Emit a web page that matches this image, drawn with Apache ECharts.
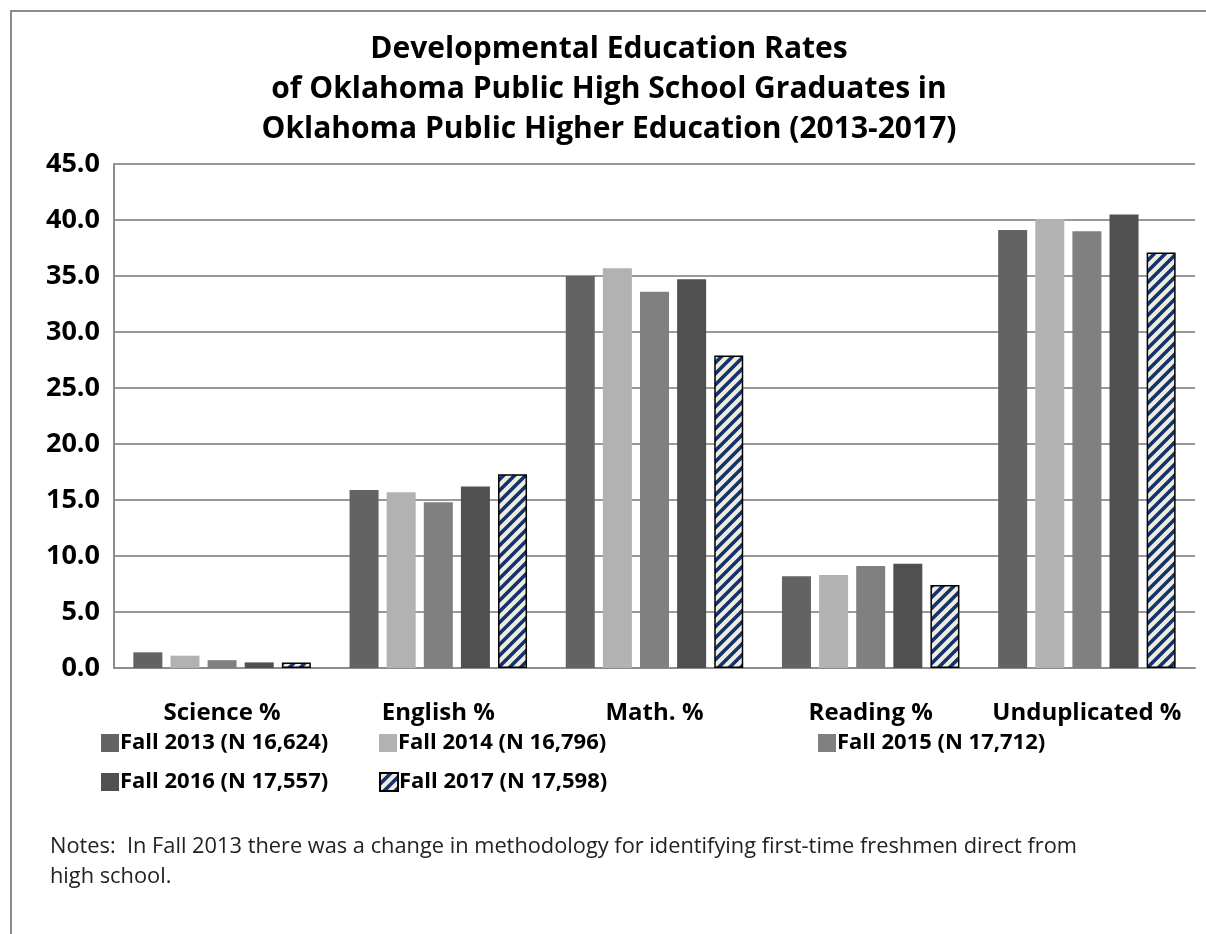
<!DOCTYPE html>
<html>
<head>
<meta charset="utf-8">
<script src="https://cdn.jsdelivr.net/npm/echarts@6/dist/echarts.min.js"></script>
<style>
html,body{margin:0;padding:0;background:#fff;}
#c{width:1206px;height:934px;}
</style>
</head>
<body>
<div id="c"></div>
<script>
const titleLines = ["Developmental Education Rates", "of Oklahoma Public High School Graduates in", "Oklahoma Public Higher Education (2013-2017)"];
const categories = ["Science %", "English %", "Math. %", "Reading %", "Unduplicated %"];
const seriesNames = ["Fall 2013 (N 16,624)", "Fall 2014 (N 16,796)", "Fall 2015 (N 17,712)", "Fall 2016 (N 17,557)", "Fall 2017 (N 17,598)"];
const fall2013 = [1.4, 15.9, 35.0, 8.2, 39.1];
const fall2014 = [1.1, 15.7, 35.7, 8.3, 40.1];
const fall2015 = [0.7, 14.8, 33.6, 9.1, 39.0];
const fall2016 = [0.5, 16.2, 34.7, 9.3, 40.5];
const fall2017 = [0.5, 17.3, 27.9, 7.4, 37.1];
const notesText = ["Notes:  In Fall 2013 there was a change in methodology for identifying first-time freshmen direct from", "high school."];

const FONT = '"Open Sans", "Noto Sans", sans-serif';

function makeHatch() {
  const s = 11;
  const cv = document.createElement('canvas');
  cv.width = s; cv.height = s;
  const g = cv.getContext('2d');
  g.fillStyle = '#efece0';
  g.fillRect(0, 0, s, s);
  g.strokeStyle = '#13336e';
  g.lineWidth = 3.6;
  g.beginPath();
  g.moveTo(-2, s + 2); g.lineTo(s + 2, -2);
  g.moveTo(-2, 2); g.lineTo(2, -2);
  g.moveTo(s - 2, s + 2); g.lineTo(s + 2, s - 2);
  g.stroke();
  return cv;
}
const hatch = { image: makeHatch(), repeat: 'repeat' };

const colors = ['#636363', '#b2b2b2', '#808080', '#505050', hatch];
const dataSets = [fall2013, fall2014, fall2015, fall2016, fall2017];

const chart = echarts.init(document.getElementById('c'), null, { renderer: 'canvas' });

const legendPos = [
  { left: 96, top: 727 },
  { left: 374, top: 727 },
  { left: 813, top: 727 },
  { left: 96, top: 766 },
  { left: 374, top: 766 }
];

const legends = seriesNames.map((n, i) => ({
  data: [n],
  left: legendPos[i].left,
  top: legendPos[i].top,
  orient: 'horizontal',
  itemWidth: 18,
  itemHeight: 18,
  itemGap: 0,
  icon: 'rect',
  selectedMode: false,
  textStyle: { fontFamily: FONT, fontWeight: 'bold', fontSize: 22, color: '#000', padding: [0, 0, 0, -4] }
}));

chart.setOption({
  backgroundColor: '#fff',
  animation: false,
  title: {
    text: titleLines.join('\n'),
    left: 604,
    textAlign: 'center',
    top: 24,
    textStyle: { fontFamily: FONT, fontWeight: 'bold', fontSize: 30, lineHeight: 40, color: '#000' }
  },
  legend: legends,
  grid: { left: 114, right: 11, top: 164, bottom: 266, containLabel: false },
  xAxis: {
    type: 'category',
    data: categories,
    axisLine: { show: true, lineStyle: { color: '#8c8c8c', width: 2 } },
    axisTick: { show: false },
    axisLabel: { interval: 0, hideOverlap: false, margin: 33, fontFamily: FONT, fontWeight: 'bold', fontSize: 24, color: '#000' }
  },
  yAxis: {
    type: 'value',
    min: 0, max: 45, interval: 5,
    axisLine: { show: true, lineStyle: { color: '#8c8c8c', width: 2 } },
    axisTick: { show: false },
    splitLine: { show: true, lineStyle: { color: '#999', width: 2 } },
    axisLabel: { margin: 14, fontFamily: FONT, fontWeight: 'bold', fontSize: 27, color: '#000', formatter: v => v.toFixed(1) }
  },
  series: seriesNames.map((n, i) => ({
    name: n,
    type: 'bar',
    data: dataSets[i],
    barWidth: 29,
    barGap: '28%',
    itemStyle: i === 4
      ? { color: colors[i], borderColor: '#000', borderWidth: 1.5 }
      : { color: colors[i] }
  })),
  graphic: [
    {
      type: 'rect',
      shape: { x: 11, y: 11, width: 1210, height: 940 },
      style: { fill: 'none', stroke: '#8c8c8c', lineWidth: 2 },
      silent: true
    },
    {
      type: 'text',
      left: 50, top: 832,
      style: { text: notesText.join('\n'), font: '21.8px ' + FONT, lineHeight: 30, fill: '#222' },
      silent: true
    }
  ]
});
</script>
</body>
</html>
